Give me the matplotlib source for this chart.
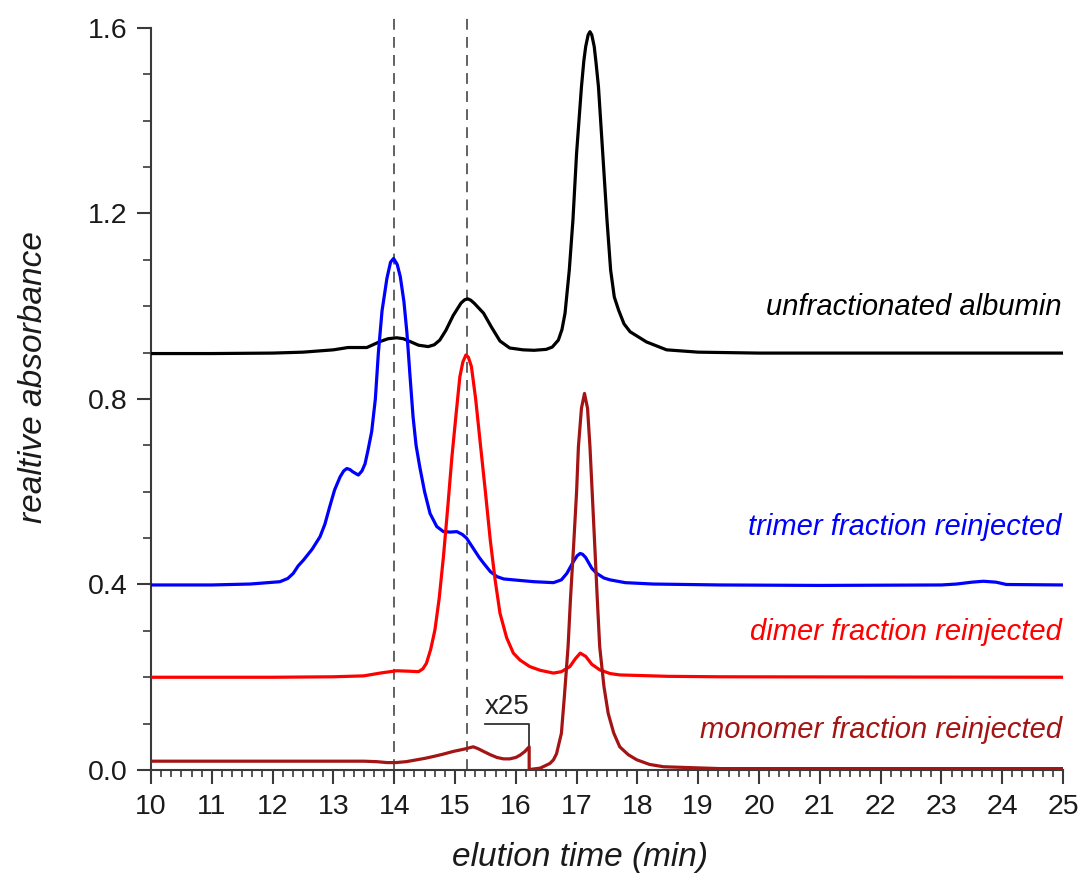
import matplotlib
matplotlib.use("Agg")
import matplotlib.pyplot as plt
from matplotlib.ticker import MultipleLocator
import numpy as np

plt.rcParams['font.family'] = ['Liberation Sans', 'DejaVu Sans']

# unfractionated albumin (black)
alb_t = [10.0, 11.0, 12.0, 12.5, 13.0, 13.24, 13.55, 13.77, 13.9, 14.04, 14.15, 14.26,
         14.4, 14.56, 14.66, 14.75, 14.85, 14.97, 15.1, 15.16, 15.21, 15.26, 15.32, 15.47,
         15.6, 15.74, 15.9, 16.12, 16.3, 16.5, 16.6, 16.7, 16.76, 16.81, 16.88, 16.94, 17.0,
         17.08, 17.12, 17.15, 17.19, 17.22, 17.25, 17.29, 17.32, 17.36, 17.43, 17.5, 17.56,
         17.62, 17.69, 17.78, 17.88, 18.15, 18.48, 19.0, 20.0, 25.0]
alb_a = [0.898, 0.898, 0.899, 0.901, 0.906, 0.911, 0.911, 0.924, 0.930, 0.932, 0.930, 0.924,
         0.916, 0.913, 0.917, 0.927, 0.948, 0.980, 1.007, 1.014, 1.016, 1.013, 1.006, 0.985,
         0.955, 0.925, 0.910, 0.906, 0.905, 0.907, 0.912, 0.927, 0.950, 0.985, 1.078, 1.186,
         1.330, 1.473, 1.530, 1.560, 1.585, 1.592, 1.585, 1.560, 1.525, 1.473, 1.330, 1.186,
         1.078, 1.020, 0.992, 0.962, 0.945, 0.923, 0.906, 0.901, 0.899, 0.899]

# trimer fraction (blue)
tri_t = [10.0, 11.0, 11.63, 12.12, 12.25, 12.34, 12.42, 12.51, 12.65, 12.78, 12.86, 12.94,
         13.02, 13.11, 13.17, 13.22, 13.27, 13.32, 13.41, 13.47, 13.52, 13.57, 13.63, 13.69,
         13.74, 13.8, 13.88, 13.94, 13.99, 14.05, 14.1, 14.16, 14.21, 14.26, 14.31, 14.36,
         14.42, 14.5, 14.59, 14.7, 14.81, 14.92, 15.03, 15.12, 15.19, 15.3, 15.4, 15.47,
         15.58, 15.69, 15.8, 15.96, 16.3, 16.62, 16.75, 16.84, 16.95, 17.01, 17.06, 17.1,
         17.15, 17.25, 17.33, 17.45, 17.55, 17.8, 18.26, 19.36, 21.0, 23.0, 23.25, 23.5,
         23.69, 23.9, 24.07, 25.0]
tri_a = [0.399, 0.399, 0.401, 0.406, 0.413, 0.424, 0.440, 0.453, 0.476, 0.503, 0.530, 0.568,
         0.604, 0.632, 0.645, 0.650, 0.648, 0.643, 0.636, 0.645, 0.660, 0.690, 0.730, 0.800,
         0.900, 0.990, 1.060, 1.095, 1.103, 1.090, 1.064, 1.010, 0.942, 0.850, 0.762, 0.700,
         0.654, 0.600, 0.553, 0.525, 0.514, 0.513, 0.514, 0.508, 0.500, 0.478, 0.458, 0.446,
         0.428, 0.417, 0.412, 0.410, 0.406, 0.404, 0.410, 0.424, 0.450, 0.462, 0.467, 0.465,
         0.458, 0.435, 0.424, 0.414, 0.410, 0.404, 0.401, 0.399, 0.398, 0.399, 0.401, 0.405,
         0.407, 0.405, 0.400, 0.399]

# dimer fraction (red)
dim_t = [10.0, 12.0, 13.0, 13.5, 13.77, 14.04, 14.25, 14.4, 14.47, 14.53, 14.6, 14.67,
         14.74, 14.81, 14.88, 14.95, 15.02, 15.08, 15.13, 15.18, 15.22, 15.27, 15.34, 15.41,
         15.5, 15.58, 15.66, 15.74, 15.85, 15.96, 16.07, 16.23, 16.4, 16.62, 16.75, 16.89,
         16.98, 17.06, 17.15, 17.25, 17.38, 17.55, 17.71, 18.5, 19.36, 25.0]
dim_a = [0.200, 0.200, 0.201, 0.203, 0.209, 0.214, 0.213, 0.212, 0.218, 0.230, 0.260, 0.302,
         0.370, 0.460, 0.565, 0.676, 0.770, 0.848, 0.880, 0.895, 0.890, 0.870, 0.800, 0.712,
         0.600, 0.496, 0.410, 0.338, 0.285, 0.252, 0.237, 0.223, 0.215, 0.209, 0.212, 0.223,
         0.240, 0.252, 0.245, 0.228, 0.216, 0.208, 0.205, 0.202, 0.201, 0.200]

# monomer fraction (dark red), part before 16.22 min shown x25
mon_t = [10.0, 12.0, 13.5, 13.71, 13.88, 14.03, 14.2, 14.37, 14.5, 14.64, 14.8, 14.97,
         15.15, 15.3, 15.38, 15.47, 15.58, 15.69, 15.8, 15.9, 16.0, 16.07, 16.15, 16.22,
         16.22, 16.4, 16.56, 16.62, 16.67, 16.75, 16.8, 16.86, 16.9, 16.95, 17.0, 17.03,
         17.08, 17.13, 17.18, 17.22, 17.26, 17.3, 17.34, 17.38, 17.45, 17.52, 17.61, 17.71,
         17.85, 17.99, 18.2, 18.43, 19.36, 25.0]
mon_a = [0.019, 0.019, 0.019, 0.018, 0.016, 0.016, 0.018, 0.022, 0.025, 0.029, 0.034, 0.040,
         0.045, 0.050, 0.046, 0.040, 0.033, 0.027, 0.024, 0.024, 0.027, 0.032, 0.040, 0.050,
         0.001, 0.004, 0.014, 0.022, 0.035, 0.079, 0.160, 0.266, 0.370, 0.481, 0.600, 0.697,
         0.780, 0.812, 0.780, 0.697, 0.590, 0.481, 0.370, 0.266, 0.180, 0.122, 0.080, 0.050,
         0.033, 0.022, 0.012, 0.007, 0.003, 0.003]

ref_lines = [14.0, 15.2]
labels = ["unfractionated albumin", "trimer fraction reinjected",
          "dimer fraction reinjected", "monomer fraction reinjected"]
label_y = [0.998, 0.524, 0.298, 0.086]
colors = ["black", "#0000ff", "#ff0000", "#a31515"]

fig = plt.figure(figsize=(10.84, 8.8), dpi=100)
ax = fig.add_axes([0.1393, 0.125, 0.8413, 0.859])

for x in ref_lines:
    ax.plot([x, x], [0, 1.625], color="#555555", lw=1.3, ls=(0, (6, 4)), zorder=1)

for t, a, c in zip([alb_t, tri_t, dim_t, mon_t], [alb_a, tri_a, dim_a, mon_a], colors):
    ax.plot(t, a, color=c, lw=2.3, solid_joinstyle="round", zorder=3)

# x25 bracket
ax.plot([15.49, 16.22, 16.22], [0.099, 0.099, 0.0], color="#333333", lw=1.3, zorder=2)
ax.text(15.86, 0.108, "x25", fontsize=20, ha="center", va="bottom", color="#222222")

for lab, y, c in zip(labels, label_y, colors):
    ax.text(24.98, y, lab, color=c, fontsize=21, style="italic", ha="right", va="center")

ax.set_xlim(10, 25)
ax.set_ylim(0, 1.63)
ax.spines["top"].set_visible(False)
ax.spines["right"].set_visible(False)
ax.spines["left"].set_bounds(0, 1.6)
for s in ["left", "bottom"]:
    ax.spines[s].set_linewidth(1.5)
    ax.spines[s].set_color("#3a3a3a")

ax.xaxis.set_major_locator(MultipleLocator(1))
ax.xaxis.set_minor_locator(MultipleLocator(1 / 6))
ax.yaxis.set_major_locator(MultipleLocator(0.4))
ax.yaxis.set_minor_locator(MultipleLocator(0.1))
ax.set_yticks([0.0, 0.4, 0.8, 1.2, 1.6])
ax.set_yticklabels(["0.0", "0.4", "0.8", "1.2", "1.6"])
ax.tick_params(which="major", length=10, width=1.5, color="#3a3a3a", labelsize=20.5,
               labelcolor="#1a1a1a", pad=7)
ax.tick_params(which="minor", length=5, width=1.2, color="#3a3a3a")
ax.tick_params(axis="y", which="minor", length=6)

ax.set_xlabel("elution time (min)", fontsize=24, style="italic", color="#1a1a1a")
ax.set_ylabel("realtive absorbance", fontsize=24, style="italic", color="#1a1a1a")
ax.xaxis.set_label_coords(0.47, -0.095)
ax.yaxis.set_label_coords(-0.112, 0.52)

fig.savefig("out.png", dpi=100)
